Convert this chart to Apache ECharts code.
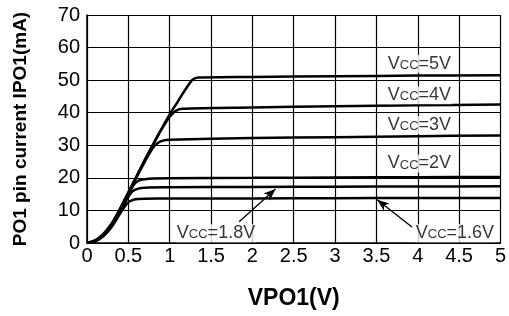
<!DOCTYPE html>
<html>
<head>
<meta charset="utf-8">
<script src="https://cdn.jsdelivr.net/npm/echarts@6/dist/echarts.min.js"></script>
<style>
  html, body { margin: 0; padding: 0; background: #fff; }
  #chart { width: 509px; height: 316px; }
</style>
</head>
<body>
<div id="chart"></div>
<script>
// VPO1 (V) vs IPO1 (mA), one curve per Vcc
const vcc5 = [[0,0],[0.1,0.8],[0.2,2.8],[0.3,6],[0.4,10.5],[0.5,15.5],[0.6,20.5],[0.7,25.5],[0.8,30.3],[0.9,35],[1.0,39.5],[1.1,43.5],[1.2,47.5],[1.28,50.2],[1.35,50.8],[2,51],[3,51.2],[4,51.4],[5,51.5]];
const vcc4 = [[0,0],[0.1,0.8],[0.2,2.8],[0.3,6],[0.4,10.5],[0.5,15.5],[0.6,20.5],[0.7,25.5],[0.8,30.3],[0.9,34.8],[1.0,38.8],[1.07,40.5],[1.15,41.2],[2,41.6],[3,42],[4,42.3],[5,42.5]];
const vcc3 = [[0,0],[0.1,0.7],[0.2,2.6],[0.3,5.8],[0.4,10.2],[0.5,15.2],[0.6,20.2],[0.7,25],[0.8,29.3],[0.86,30.8],[0.93,31.5],[1.0,31.7],[2,32.2],[3,32.5],[4,32.8],[5,33]];
const vcc2 = [[0,0],[0.1,0.6],[0.2,2.4],[0.3,5.5],[0.4,9.8],[0.5,14.8],[0.57,18],[0.63,19.2],[0.7,19.6],[0.8,19.8],[1,19.9],[2,20],[3,20.1],[4,20.2],[5,20.3]];
const vcc18 = [[0,0],[0.1,0.6],[0.2,2.3],[0.3,5.3],[0.4,9.5],[0.5,14.2],[0.55,15.9],[0.62,16.7],[0.7,17],[1,17.1],[2,17.2],[3,17.3],[4,17.35],[5,17.4]];
const vcc16 = [[0,0],[0.1,0.5],[0.2,2.1],[0.3,5],[0.4,9],[0.48,12],[0.54,13.1],[0.62,13.5],[0.7,13.6],[1,13.65],[2,13.7],[3,13.75],[4,13.8],[5,13.8]];

const xTicks = { min: 0, max: 5, interval: 0.5 };
const yTicks = { min: 0, max: 70, interval: 10 };

// label text and anchor [x, y] in data units
const labelNames = ['5V', '4V', '3V', '2V', '1.8V', '1.6V'];
const labelPos = [[4.02, 55], [4.02, 45.4], [4.02, 36.2], [4.02, 24.4], [1.56, 3], [4.45, 3]];

// arrows: [from, to]
const arrows = [
  [[1.84, 6.5], [2.28, 16.6]],
  [[3.93, 4.9], [3.51, 13.3]]
];

const chart = echarts.init(document.getElementById('chart'));

function curve(data) {
  return {
    type: 'line',
    data: data,
    smooth: 0.3,
    showSymbol: false,
    silent: true,
    lineStyle: { color: '#000', width: 2.5 },
    z: 3
  };
}

const series = [vcc5, vcc4, vcc3, vcc2, vcc18, vcc16].map(curve);

series.push({
  type: 'scatter',
  symbolSize: 0,
  silent: true,
  z: 5,
  data: labelPos.map((p, i) => ({
    value: p,
    label: {
      show: true,
      position: 'inside',
      formatter: 'V{s|CC}=' + labelNames[i],
      color: '#000',
      fontSize: 18,
      fontFamily: 'Liberation Sans, Arial, sans-serif',
      backgroundColor: '#fff',
      padding: [0, 1],
      rich: { s: { fontSize: 13, color: '#000', fontFamily: 'Liberation Sans, Arial, sans-serif', padding: [3, 0, 0, 0] } }
    }
  })),
  markLine: {
    silent: true,
    symbol: ['none', 'arrow'],
    symbolSize: [7, 12],
    label: { show: false },
    lineStyle: { color: '#000', width: 1.3, type: 'solid' },
    data: arrows.map(a => [{ coord: a[0] }, { coord: a[1] }])
  }
});

chart.setOption({
  animation: false,
  grid: { left: 87, right: 6, top: 15, bottom: 73 },
  xAxis: {
    type: 'value',
    min: xTicks.min,
    max: xTicks.max,
    interval: xTicks.interval,
    name: 'VPO1(V)',
    nameLocation: 'middle',
    nameGap: 44,
    nameTextStyle: { color: '#000', fontSize: 23, fontWeight: 'bold', fontFamily: 'Liberation Sans, Arial, sans-serif' },
    axisLine: { lineStyle: { color: '#000', width: 1.5 } },
    axisTick: { show: false },
    axisLabel: { color: '#000', fontSize: 20, margin: 3, fontFamily: 'Liberation Sans, Arial, sans-serif' },
    splitLine: { show: true, lineStyle: { color: '#000', width: 1.2 } }
  },
  yAxis: {
    type: 'value',
    min: yTicks.min,
    max: yTicks.max,
    interval: yTicks.interval,
    name: 'PO1 pin current IPO1(mA)',
    nameLocation: 'middle',
    nameGap: 57,
    nameTextStyle: { color: '#000', fontSize: 19, fontWeight: 'bold', fontFamily: 'Liberation Sans, Arial, sans-serif' },
    axisLine: { show: true, lineStyle: { color: '#000', width: 1.5 } },
    axisTick: { show: false },
    axisLabel: { color: '#000', fontSize: 20, margin: 7, fontFamily: 'Liberation Sans, Arial, sans-serif' },
    splitLine: { show: true, lineStyle: { color: '#000', width: 1.2 } }
  },
  series: series
});
</script>
</body>
</html>
